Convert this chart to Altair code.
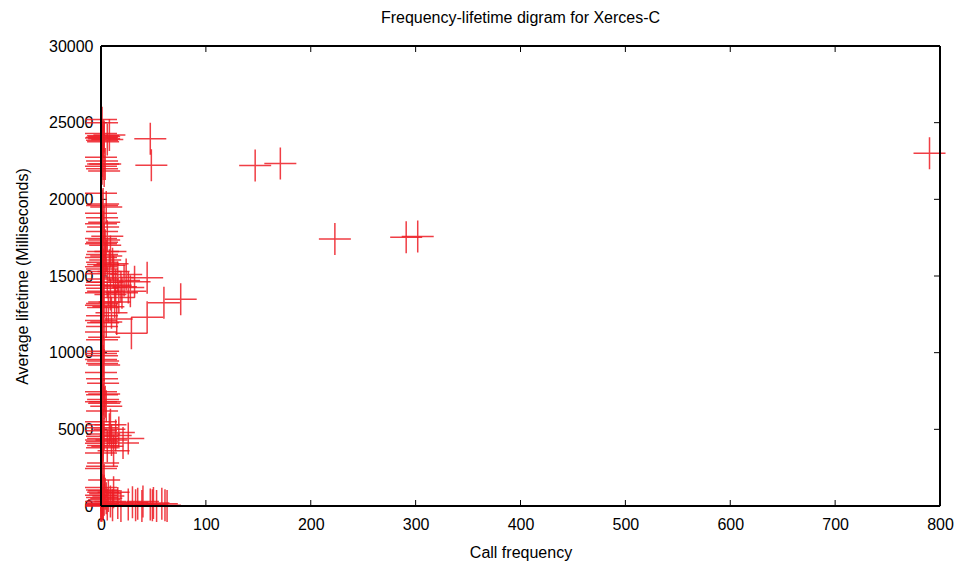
import altair as alt
import pandas as pd

# ---- data (approximate) ----
far_calls = [790, 147, 171, 223, 291, 302, 47, 48]
far_life = [23000, 22200, 22330, 17420, 17520, 17570, 23950, 22220]

mid_calls = [76, 60, 44, 29, 44, 32, 26, 22, 19, 16, 12, 9, 6, 13, 28, 8, 5, 10, 17, 24,
             7, 5, 4, 6, 3, 5, 4, 3, 6, 8, 11, 14, 20, 9, 15]
mid_life = [13480, 13260, 12310, 11260, 14880, 14630, 14250, 14700, 14300, 14900, 15300, 13800,
            14600, 13300, 14000, 15700, 16300, 12600, 13600, 15100, 13000, 12000, 17000, 17600,
            18500, 19500, 22300, 24100, 23900, 24200, 15800, 14400, 13900, 16600, 12200]

low_calls = [26, 21, 14, 10, 8, 6, 12, 4, 5, 17, 9, 3]
low_life = [4410, 4110, 4600, 4300, 5000, 3900, 3600, 6800, 6500, 4800, 5300, 7300]

bottom_calls = [2, 6, 9, 11, 16, 19, 26, 30, 33, 35, 39, 40, 47, 49, 50, 53, 58, 61, 63,
                4, 7, 12, 3, 5]
bottom_life = [150, 100, 300, 50, 200, 0, 100, 250, 50, 150, 0, 300, 100, 50, 200, 0, 150, 50, 0,
               800, 650, 900, 1000, 500]

axis_calls = [0, 1, 0, 2, 1, 0, 3, 1, 2, 0, 1, 2, 0, 1, 3, 0, 2, 1, 0, 1,
              0, 2, 1, 0, 3, 1, 0, 2, 1, 0, 4, 1, 2, 0, 1, 3, 0, 2, 1, 0,
              1, 2, 0, 3, 1, 0, 2, 1, 0, 2, 1, 0, 3, 1, 2, 0, 1, 0, 2, 1,
              3, 0, 1, 2, 0, 1, 2, 0, 3, 1, 0, 2, 1, 0, 3, 1, 2, 0, 1, 0,
              2, 1, 0, 2, 1, 0, 3, 0, 1, 2, 0, 1, 3, 0, 2, 1, 0, 1, 0]
axis_life = [25200, 25000, 24300, 24150, 24050, 24000, 23950, 23850, 23750, 22750,
             22500, 22300, 22150, 22000, 21850, 20400, 19700, 19600, 19100, 18800,
             18400, 18200, 17900, 17450, 17350, 17200, 17100, 16600, 16400, 16200,
             16050, 15900, 15750, 15600, 15450, 15300, 15150, 14800, 14600, 14400,
             14200, 14000, 13900, 13300, 13200, 13100, 12950, 12400, 12100, 11950,
             11700, 11350, 11000, 10850, 10100, 9950, 9800, 9550, 9450, 9300,
             9200, 8700, 8300, 8000, 7450, 7250, 6950, 6800, 6700, 6200,
             5500, 5300, 5100, 4900, 4700, 4550, 4400, 4300, 4200, 4100,
             3950, 3800, 3450, 2800, 2600, 2450, 1700, 1200, 1050, 900,
             700, 550, 400, 300, 200, 120, 60, 20, 0]

x_ticks = [0, 100, 200, 300, 400, 500, 600, 700, 800]
y_ticks = [0, 5000, 10000, 15000, 20000, 25000, 30000]

calls = axis_calls + bottom_calls + low_calls + mid_calls + far_calls
life = axis_life + bottom_life + low_life + mid_life + far_life
df = pd.DataFrame({"calls": calls, "life": life})
xt = pd.DataFrame({"calls": x_ticks})
yt = pd.DataFrame({"life": y_ticks})

W, H = 839, 460
FONT = "Liberation Sans"
x_scale = alt.Scale(domain=[0, 800], nice=False, zero=False)
y_scale = alt.Scale(domain=[0, 30000], nice=False, zero=False)
CROSS = "M-1,0L1,0M0,-1L0,1"

x_axis = alt.Axis(
    title="Call frequency", values=x_ticks, format="d", ticks=False, domain=False, grid=False,
    labelFlush=False, labelPadding=10, labelFontSize=16, labelFont=FONT,
    labelColor="black", titleFont=FONT, titleFontSize=16, titleFontWeight="normal",
    titleColor="black", titlePadding=12)
y_axis = alt.Axis(
    title="Average lifetime (Milliseconds)", values=y_ticks, format="d", ticks=False,
    domain=False, grid=False, labelFlush=False, labelPadding=8, labelFontSize=16,
    labelFont=FONT, labelColor="black", titleFont=FONT, titleFontSize=16,
    titleFontWeight="normal", titleColor="black", titlePadding=18)

points = alt.Chart(df).mark_point(
    shape=CROSS, size=1024, filled=False, color="#ee1d25", opacity=0.85, strokeWidth=1.5
).encode(
    x=alt.X("calls:Q", scale=x_scale, axis=x_axis),
    y=alt.Y("life:Q", scale=y_scale, axis=y_axis),
)

tick_style = dict(color="black", strokeWidth=1)
bottom_ticks = alt.Chart(xt).mark_rule(**tick_style).encode(
    x=alt.X("calls:Q", scale=x_scale, axis=x_axis), y=alt.value(H), y2=alt.value(H - 6))
top_ticks = alt.Chart(xt).mark_rule(**tick_style).encode(
    x=alt.X("calls:Q", scale=x_scale, axis=x_axis), y=alt.value(0), y2=alt.value(6))
left_ticks = alt.Chart(yt).mark_rule(**tick_style).encode(
    y=alt.Y("life:Q", scale=y_scale, axis=y_axis), x=alt.value(0), x2=alt.value(6))
right_ticks = alt.Chart(yt).mark_rule(**tick_style).encode(
    y=alt.Y("life:Q", scale=y_scale, axis=y_axis), x=alt.value(W), x2=alt.value(W - 6))

frame_style = dict(color="black", strokeWidth=1.5)
frame_left = alt.Chart(xt).mark_rule(**frame_style).encode(
    x=alt.value(0), y=alt.value(0), y2=alt.value(H))
frame_right = alt.Chart(xt).mark_rule(**frame_style).encode(
    x=alt.value(W), y=alt.value(0), y2=alt.value(H))
frame_top = alt.Chart(xt).mark_rule(**frame_style).encode(
    y=alt.value(0), x=alt.value(0), x2=alt.value(W))
frame_bottom = alt.Chart(xt).mark_rule(**frame_style).encode(
    y=alt.value(H), x=alt.value(0), x2=alt.value(W))

chart = alt.layer(
    bottom_ticks, top_ticks, left_ticks, right_ticks, points,
    frame_left, frame_right, frame_top, frame_bottom
).properties(
    width=W, height=H,
    title=alt.TitleParams("Frequency-lifetime digram for Xerces-C", font=FONT, fontSize=16,
                          fontWeight="normal", color="black", offset=12),
    padding={"left": 101, "top": 46, "right": 18, "bottom": 57},
    autosize=alt.AutoSizeParams(type="none"),
).configure_view(stroke=None).configure(background="white")

chart.save("out.html", embed_options={"renderer": "svg", "actions": False})
